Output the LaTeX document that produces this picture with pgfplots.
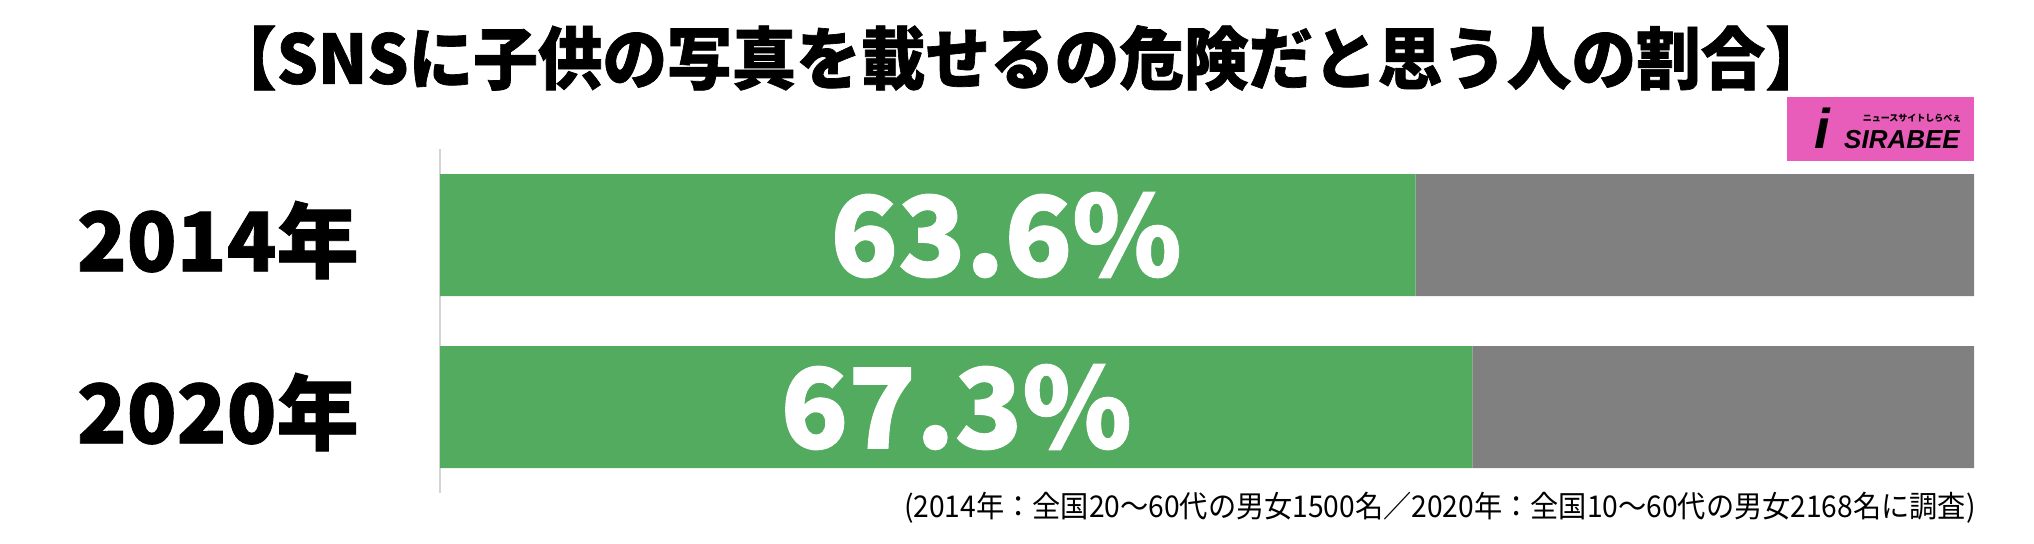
\documentclass[border=0pt]{standalone}
\usepackage{fontspec}
\usepackage{pgfplots}
\pgfplotsset{compat=1.18}
\setmainfont{Noto Sans CJK JP}
\newfontfamily\cjk{Noto Sans CJK JP}
\newfontfamily\cjkheavy[FakeBold=1]{Noto Sans CJK JP}
\newfontfamily\cjktitle[FakeStretch=0.95,FakeBold=1]{Noto Sans CJK JP}
\newfontfamily\cjknote[FakeStretch=0.94]{Noto Sans CJK JP}
\newfontfamily\logofont{Liberation Sans}
\definecolor{sgreen}{RGB}{82,171,94}
\definecolor{sgray}{RGB}{128,128,128}
\definecolor{saxis}{RGB}{212,212,212}
\definecolor{spink}{RGB}{232,92,186}
\begin{document}
\begin{tikzpicture}
\path[use as bounding box] (0,0) rectangle (1017pt,271.5pt);
% title
\node[font=\cjktitle\bfseries\fontsize{34}{40}\selectfont, inner sep=0pt, anchor=center] at (510.5pt,242.5pt) {【SNSに子供の写真を載せるの危険だと思う人の割合】};
% logo
\fill[spink] (893.5pt,191pt) rectangle (987pt,223pt);
\node[font=\logofont\bfseries\itshape\fontsize{28}{30}\selectfont, inner sep=0pt] at (911pt,207.5pt) {i};
\node[font=\logofont\bfseries\itshape\fontsize{13}{15}\selectfont, inner sep=0pt] at (951pt,201.5pt) {SIRABEE};
\node[font=\cjk\bfseries\fontsize{4.5}{5}\selectfont, inner sep=0pt] at (956pt,212.5pt) {ニュースサイトしらべぇ};
% footnote
\node[font=\cjknote\fontsize{15}{18}\selectfont, inner sep=0pt, anchor=east] at (988pt,17.5pt) {(2014年：全国20〜60代の男女1500名／2020年：全国10〜60代の男女2168名に調査)};
\begin{axis}[
  at={(220pt,25pt)}, anchor=south west,
  scale only axis, width=767pt, height=172pt,
  xmin=0, xmax=100, ymin=-0.5, ymax=1.5,
  xbar stacked, bar width=61pt,
  axis x line=none, axis y line=left,
  y axis line style={-, draw=saxis, line width=1pt},
  ytick={0,1}, yticklabels={2020年,2014年},
  major tick length=0pt,
  yticklabel style={font=\cjkheavy\bfseries\fontsize{41}{48}\selectfont, inner sep=0pt, xshift=-40.5pt, yshift=-2.5pt},
  clip=false,
]
\addplot[fill=sgreen, draw=none] coordinates {(67.3,0) (63.6,1)};
\addplot[fill=sgray, draw=none] coordinates {(32.7,0) (36.4,1)};
\end{axis}
% overlay axis for value labels (same frame, not stacked)
\begin{axis}[
  at={(220pt,25pt)}, anchor=south west,
  scale only axis, width=767pt, height=172pt,
  xmin=0, xmax=100, ymin=-0.5, ymax=1.5,
  hide axis, clip=false,
]
\addplot[draw=none, mark=none, nodes near coords, point meta=explicit symbolic,
  nodes near coords style={anchor=center, font=\cjkheavy\bfseries\fontsize{55.5}{60}\selectfont, text=white, inner sep=0pt}]
  coordinates {(36.9,1) [63.6\%] (33.65,0) [67.3\%]};
\end{axis}
\end{tikzpicture}
\end{document}
